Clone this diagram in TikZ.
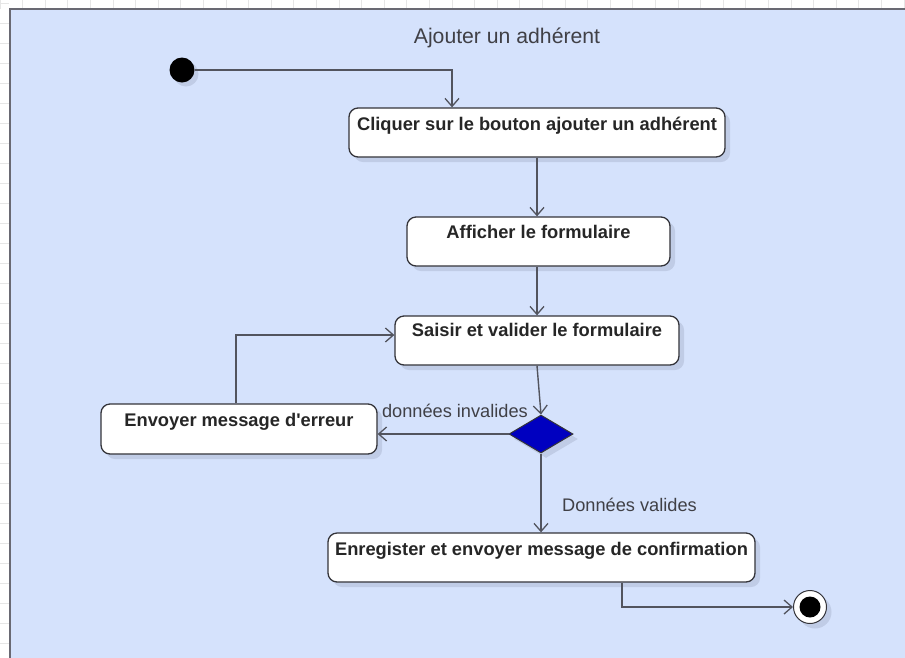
\documentclass[tikz,border=0pt]{standalone}
\usepackage{fontspec}
\setmainfont{Liberation Sans}
\usetikzlibrary{arrows.meta,shapes.geometric,shadows,calc}
\definecolor{bgblue}{RGB}{213,226,252}
\definecolor{shadowc}{RGB}{192,204,230}
\definecolor{linec}{RGB}{82,84,94}
\definecolor{boxc}{RGB}{52,52,58}
\definecolor{diac}{RGB}{0,0,192}
\definecolor{txtc}{RGB}{64,64,70}
\definecolor{gridc}{RGB}{230,230,230}
\definecolor{framec}{RGB}{105,105,115}
\begin{document}
\begin{tikzpicture}[x=1pt,y=-1pt,
  act/.style={draw=boxc, line width=1.3pt, fill=white, rounded corners=9pt, inner sep=0pt,
    drop shadow={shadow xshift=5pt,shadow yshift=-5pt,fill=shadowc,opacity=1}},
  acttext/.style={anchor=north, inner sep=0pt, yshift=-9.5pt, text=black!85,
    font=\bfseries\fontsize{18.3}{20}\selectfont},
  guard/.style={inner sep=0pt, text=txtc, font=\fontsize{18.2}{20}\selectfont},
  conn/.style={draw=linec, line width=1.4pt, -{Straight Barb[length=8pt,width=14pt,line width=1.3pt]}},
]
\useasboundingbox (0,0) rectangle (905,657);
\fill[white] (0,0) rectangle (905,657);
\foreach \gx in {0,22.6,...,905} {\draw[gridc, line width=1pt] (\gx,0) -- (\gx,9);}
\foreach \gy in {3,23,...,657} {\draw[gridc, line width=1pt] (0,\gy) -- (9,\gy);}
\fill[bgblue] (10,9) rectangle (910,662);
\draw[framec, line width=2pt] (10,662) -- (10,9) -- (910,9);

\node[anchor=base, inner sep=0pt, text=txtc, font=\fontsize{21.2}{24}\selectfont] (title) at (507,43) {Ajouter un adhérent};

\node[circle, fill=black, minimum size=25pt, inner sep=0pt,
  drop shadow={shadow xshift=4pt,shadow yshift=-4pt,fill=shadowc,opacity=1}] (start) at (182,70) {};

\node[act, minimum width=376pt, minimum height=49pt,
  label={[acttext]north:Cliquer sur le bouton ajouter un adhérent}] (n1) at (537,132.5) {};
\node[act, minimum width=263pt, minimum height=49pt,
  label={[acttext,yshift=1pt]north:Afficher le formulaire}] (n2) at (538.5,241.5) {};
\node[act, minimum width=284pt, minimum height=49pt,
  label={[acttext,yshift=1.5pt]north:Saisir et valider le formulaire}] (n3) at (537,340.5) {};
\node[act, minimum width=276pt, minimum height=50pt,
  label={[acttext]north:Envoyer message d\textquotesingle erreur}] (err) at (239,429) {};
\node[act, minimum width=427pt, minimum height=49pt,
  label={[acttext]north:Enregister et envoyer message de confirmation}] (enr) at (541.5,557.5) {};

\node[diamond, aspect=1.7, fill=diac, draw=boxc, line width=1pt, minimum width=64pt, minimum height=38pt, inner sep=0pt,
  drop shadow={shadow xshift=5pt,shadow yshift=-5pt,fill=shadowc,opacity=1}] (dia) at (541,434) {};

\node[circle, draw=boxc, line width=1pt, fill=white, minimum size=33pt, inner sep=0pt,
  drop shadow={shadow xshift=5pt,shadow yshift=-5pt,fill=shadowc,opacity=1}] (fin) at (810,607) {};
\node[circle, fill=black, minimum size=21pt, inner sep=0pt] (fincore) at (fin.center) {};

\draw[conn] (start.east) -| ([xshift=-85pt]n1.north);
\draw[conn] (n1.south) -- (n1.south |- n2.north);
\draw[conn] (n2.south -| n1.south) -- (n3.north);
\draw[conn] (n3.south) -- (dia.north);
\draw[conn] (dia.west) -- (dia.west -| err.east);
\draw[conn] ([xshift=-3pt]err.north) |- ([yshift=5.5pt]n3.west);
\draw[conn] (dia.south) -- (dia.south |- enr.north);
\draw[conn] ([xshift=80.5pt]enr.south) |- (fin.west);

\node[guard, anchor=base east] (lblinv) at (528,417) {données invalides};
\node[guard, anchor=base west] (lblval) at (562,511) {Données valides};
\end{tikzpicture}
\end{document}
